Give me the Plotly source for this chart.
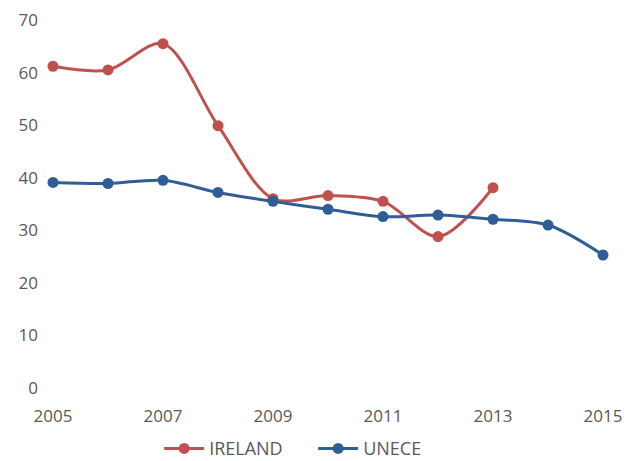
import plotly.graph_objects as go

years_ireland = [2005, 2006, 2007, 2008, 2009, 2010, 2011, 2012, 2013]
ireland = [61.2, 60.5, 65.5, 49.9, 36.0, 36.6, 35.5, 28.8, 38.1]
years_unece = [2005, 2006, 2007, 2008, 2009, 2010, 2011, 2012, 2013, 2014, 2015]
unece = [39.1, 38.9, 39.5, 37.2, 35.5, 34.0, 32.6, 32.9, 32.1, 31.0, 25.3]
x_ticks = [2005, 2007, 2009, 2011, 2013, 2015]
y_ticks = [0, 10, 20, 30, 40, 50, 60, 70]

RED = "#C0504D"
BLUE = "#2F5E96"
TXT = "#595959"
FONT = "Open Sans"

fig = go.Figure()
fig.add_trace(go.Scatter(x=years_ireland, y=ireland, name="IRELAND", mode="lines+markers",
                         line=dict(color=RED, width=3, shape="spline", smoothing=0.9),
                         marker=dict(color=RED, size=11), cliponaxis=False))
fig.add_trace(go.Scatter(x=years_unece, y=unece, name="UNECE", mode="lines+markers",
                         line=dict(color=BLUE, width=3, shape="spline", smoothing=0.9),
                         marker=dict(color=BLUE, size=11), cliponaxis=False))

fig.update_layout(
    width=629, height=453,
    margin=dict(l=45, r=34, t=12, b=73, autoexpand=False),
    paper_bgcolor="white", plot_bgcolor="white",
    font=dict(family=FONT, size=17, color=TXT),
    showlegend=True,
    legend=dict(orientation="h", x=0.193, xanchor="left", y=-0.165, yanchor="middle",
                font=dict(family=FONT, size=18, color=TXT), itemwidth=40,
                entrywidth=99, traceorder="normal"),
    xaxis=dict(range=[2005, 2015], tickvals=x_ticks, showgrid=False, zeroline=False,
               showline=False, ticks="", ticklabelstandoff=16, automargin=False,
               ticklabeloverflow="allow"),
    yaxis=dict(range=[0, 70], tickvals=y_ticks, showgrid=False, zeroline=False,
               showline=False, ticks="", ticklabelstandoff=14, automargin=False,
               ticklabeloverflow="allow"),
)

fig.write_html("out.html")
